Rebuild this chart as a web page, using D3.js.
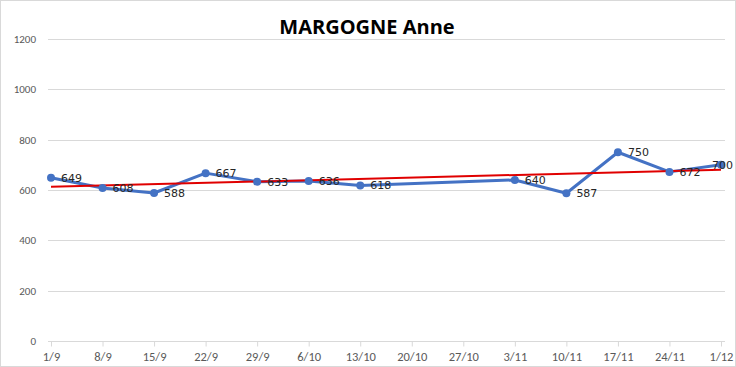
<!DOCTYPE html>
<html>
<head>
<meta charset="utf-8">
<script src="https://cdn.jsdelivr.net/npm/d3@7"></script>
<style>
  body { margin: 0; background: #fff; }
  svg { display: block; font-family: Calibri, Carlito, "Liberation Sans", sans-serif; }
</style>
</head>
<body>
<svg id="chart" width="736" height="367"></svg>
<script>
// weekly dates on the x axis
const dates = ['1/9', '8/9', '15/9', '22/9', '29/9', '6/10', '13/10', '20/10', '27/10', '3/11', '10/11', '17/11', '24/11', '1/12'];
// measured values (no data on 20/10 and 27/10)
const values = [649, 608, 588, 667, 633, 636, 618, null, null, 640, 587, 750, 672, 700];
const yTicks = [0, 200, 400, 600, 800, 1000, 1200];
const title = 'MARGOGNE Anne';

const svg = d3.select('#chart');
const W = 736, H = 367;

svg.append('rect')
  .attr('x', 0.5).attr('y', 0.5)
  .attr('width', W - 1).attr('height', H - 1)
  .attr('fill', '#fff').attr('stroke', '#d9d9d9');

const x = d3.scalePoint()
  .domain(dates)
  .range([51, 721]);

const y = d3.scaleLinear()
  .domain([0, 1200])
  .range([341, 39]);

// gridlines
svg.append('g')
  .selectAll('line')
  .data(yTicks)
  .enter()
  .append('line')
  .attr('x1', 48).attr('x2', 725)
  .attr('y1', (d) => Math.round(y(d)) + 0.5)
  .attr('y2', (d) => Math.round(y(d)) + 0.5)
  .attr('stroke', '#d9d9d9');

// y labels
svg.append('g')
  .selectAll('text')
  .data(yTicks)
  .enter()
  .append('text')
  .attr('x', 36)
  .attr('y', (d) => y(d))
  .attr('dy', '0.35em')
  .attr('text-anchor', 'end')
  .attr('font-size', 11)
  .attr('fill', '#595959')
  .text((d) => d);

// x axis
const xAxis = svg.append('g')
  .attr('transform', `translate(0,${Math.round(y(0)) + 0.5})`)
  .call(d3.axisBottom(x).tickSize(5).tickPadding(6).tickSizeOuter(0));
xAxis.select('.domain').attr('stroke', '#d9d9d9').attr('d', 'M48,0H725');
xAxis.selectAll('.tick line').attr('stroke', '#d9d9d9');
xAxis.selectAll('.tick text')
  .attr('font-size', 12.5)
  .attr('fill', '#595959')
  .attr('font-family', 'Calibri, Carlito, "Liberation Sans", sans-serif');

const points = dates
  .map((d, i) => ({ date: d, i: i, value: values[i] }))
  .filter((d) => d.value != null);

// series line
const line = d3.line()
  .x((d) => x(d.date))
  .y((d) => y(d.value));

svg.append('path')
  .datum(points)
  .attr('d', line)
  .attr('fill', 'none')
  .attr('stroke', '#4472c4')
  .attr('stroke-width', 3)
  .attr('stroke-linejoin', 'round');

// linear trend line
const mx = d3.mean(points, (d) => d.i);
const my = d3.mean(points, (d) => d.value);
const slope = d3.sum(points, (d) => (d.i - mx) * (d.value - my)) / d3.sum(points, (d) => (d.i - mx) ** 2);
const icpt = my - slope * mx;
const first = dates[0], last = dates[dates.length - 1];
svg.append('line')
  .attr('x1', x(first)).attr('y1', y(icpt))
  .attr('x2', x(last)).attr('y2', y(icpt + slope * (dates.length - 1)))
  .attr('stroke', '#e00000')
  .attr('stroke-width', 2);

// markers
svg.append('g')
  .selectAll('circle')
  .data(points)
  .enter()
  .append('circle')
  .attr('cx', (d) => x(d.date))
  .attr('cy', (d) => y(d.value))
  .attr('r', 4)
  .attr('fill', '#4472c4');

// data labels, pushed back inside when they hit the right edge
svg.append('g')
  .selectAll('text')
  .data(points)
  .enter()
  .append('text')
  .attr('x', (d) => x(d.date) + 10)
  .attr('y', (d) => y(d.value))
  .attr('dy', '0.35em')
  .attr('fill', '#262626')
  .attr('font-family', '"DejaVu Sans", sans-serif')
  .attr('font-size', 11)
  .text((d) => d.value)
  .each(function (d) {
    const w = this.getComputedTextLength();
    const x0 = x(d.date) + 10;
    if (x0 + w > W - 3) d3.select(this).attr('x', W - 3 - w);
  });

// title
svg.append('text')
  .attr('x', 367)
  .attr('y', 27)
  .attr('dy', '0.35em')
  .attr('text-anchor', 'middle')
  .attr('font-size', 20)
  .attr('font-weight', 'bold')
  .attr('fill', '#000')
  .attr('font-family', '"Open Sans", sans-serif')
  .text(title);
</script>
</body>
</html>
